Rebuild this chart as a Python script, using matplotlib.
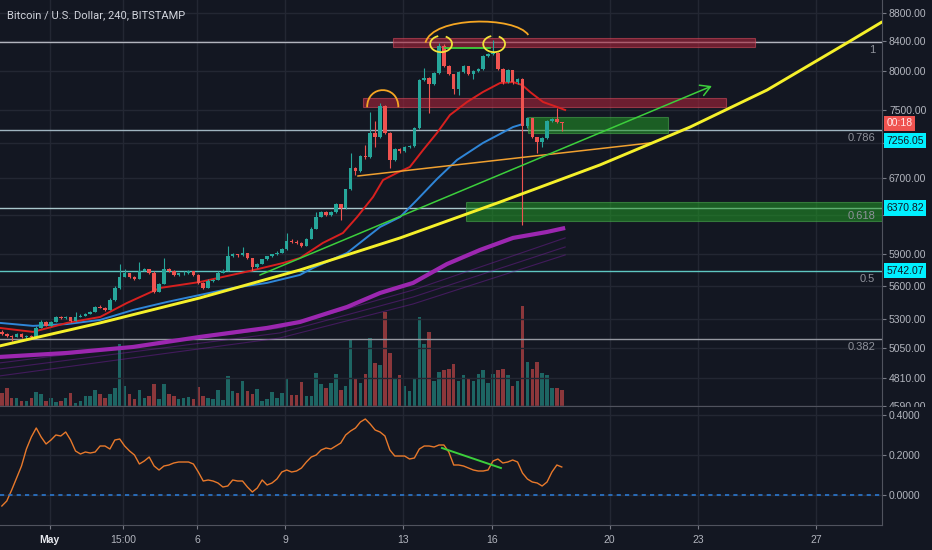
import numpy as np
import matplotlib
matplotlib.use("Agg")
import matplotlib.pyplot as plt
from matplotlib.path import Path
from matplotlib.patches import PathPatch, Rectangle
from matplotlib.transforms import blended_transform_factory
from matplotlib.ticker import FixedLocator, NullLocator

plt.rcParams['font.family'] = ['Liberation Sans', 'DejaVu Sans']

BG = '#131722'
GRID = '#232733'
TXT = '#b2b5be'
UP = '#26a69a'
DOWN = '#ef5350'

# x axis is "day of May 2019" (1.0 = May 1 00:00), one bar every 4 hours
first_bar = -0.625
first_open = 5185

closes = [5173, 5156, 5148, 5173, 5148, 5152, 5140, 5225, 5277, 5242,
          5277, 5321, 5312, 5316, 5286, 5321, 5330, 5348, 5366, 5411,
          5402, 5384, 5474, 5584, 5687, 5716, 5687, 5668, 5744, 5754,
          5725, 5547, 5621, 5754, 5744, 5706, 5716, 5725, 5735, 5706,
          5630, 5584, 5649, 5658, 5725, 5744, 5879, 5899, 5889, 5909,
          5860, 5773, 5811, 5850, 5879, 5899, 5918, 5948, 6037, 6027,
          6017, 5987, 6057, 6158, 6282, 6325, 6294, 6325, 6410, 6367,
          6571, 6803, 6770, 6941, 6930, 7212, 7163, 7541, 7212, 6895,
          7021, 6998, 7045, 7057, 7271, 7874, 7900, 7822, 7966, 8331,
          8059, 7953, 7757, 7980, 8059, 7953, 7993, 8019, 8195, 8222,
          8235, 8019, 7848, 8006, 7848, 7887, 7295, 7392, 7163, 7104,
          7151, 7355, 7380, 7343, 7331]
highs = [5200, 5180, 5165, 5182, 5178, 5162, 5158, 5235, 5290, 5282,
         5285, 5330, 5330, 5326, 5320, 5366, 5340, 5356, 5372, 5420,
         5425, 5410, 5484, 5595, 5802, 5760, 5725, 5695, 5830, 5765,
         5762, 5735, 5630, 5860, 5770, 5752, 5725, 5740, 5745, 5740,
         5712, 5640, 5660, 5668, 5735, 5755, 5987, 5910, 5905, 5968,
         5915, 5868, 5820, 5858, 5888, 5908, 5930, 5958, 6108, 6050,
         6040, 6025, 6065, 6170, 6325, 6340, 6335, 6340, 6420, 6418,
         6580, 6975, 6815, 6955, 7068, 7466, 7355, 7580, 7555, 7225,
         7035, 7040, 7060, 7070, 7285, 7890, 8032, 7915, 7980, 8372,
         8360, 8070, 7960, 7995, 8075, 8068, 8005, 8030, 8210, 8235,
         8414, 8250, 8030, 8020, 8015, 7900, 7900, 7410, 7400, 7170,
         7165, 7370, 7395, 7516, 7350]
lows = [5160, 5148, 5114, 5140, 5135, 5130, 5128, 5135, 5218, 5235,
        5238, 5270, 5300, 5302, 5278, 5280, 5315, 5325, 5340, 5360,
        5395, 5375, 5380, 5465, 5575, 5680, 5670, 5655, 5660, 5735,
        5715, 5535, 5540, 5615, 5730, 5695, 5690, 5705, 5715, 5695,
        5620, 5570, 5578, 5638, 5650, 5718, 5738, 5870, 5875, 5880,
        5850, 5744, 5765, 5805, 5843, 5872, 5892, 5910, 5940, 6015,
        6005, 5975, 5980, 6050, 6150, 6275, 6285, 6288, 6318, 6251,
        6360, 6565, 6725, 6760, 6915, 6925, 7050, 7155, 7200, 6803,
        6885, 6985, 6990, 7035, 7050, 7265, 7865, 7454, 7810, 7955,
        8045, 7940, 7700, 7680, 7970, 7940, 7890, 7985, 8010, 8185,
        8210, 8005, 7830, 7835, 7830, 7820, 6190, 7280, 7150, 6976,
        7050, 7140, 7345, 7330, 7235]
volumes = [13, 18, 8, 8, 5, 5, 8, 14, 12, 5,
           8, 4, 5, 8, 13, 3, 5, 10, 10, 16,
           12, 8, 12, 18, 62, 20, 12, 7, 16, 8,
           10, 22, 7, 22, 12, 10, 7, 8, 9, 7,
           19, 10, 8, 7, 16, 6, 30, 15, 13, 25,
           15, 12, 17, 5, 7, 14, 8, 13, 27, 11,
           11, 24, 10, 10, 33, 22, 18, 23, 32, 16,
           20, 67, 27, 23, 32, 68, 43, 41, 94, 53,
           27, 31, 20, 15, 28, 89, 62, 74, 25, 34,
           36, 37, 42, 25, 31, 27, 25, 32, 36, 23,
           32, 36, 37, 31, 20, 25, 100, 44, 37, 44,
           33, 31, 18, 18, 16]
osc = [-0.055, -0.03, 0.025, 0.085, 0.145, 0.23, 0.29, 0.335, 0.29, 0.255,
       0.275, 0.30, 0.295, 0.315, 0.275, 0.22, 0.205, 0.215, 0.21, 0.215,
       0.245, 0.245, 0.23, 0.275, 0.28, 0.245, 0.22, 0.20, 0.155, 0.17,
       0.19, 0.145, 0.125, 0.145, 0.15, 0.16, 0.165, 0.165, 0.165, 0.155,
       0.115, 0.07, 0.075, 0.07, 0.06, 0.04, 0.045, 0.075, 0.07, 0.07,
       0.04, 0.015, 0.035, 0.075, 0.05, 0.06, 0.08, 0.115, 0.125, 0.115,
       0.12, 0.135, 0.165, 0.19, 0.20, 0.225, 0.235, 0.23, 0.245, 0.26,
       0.30, 0.32, 0.335, 0.365, 0.38, 0.355, 0.325, 0.315, 0.295, 0.225,
       0.195, 0.195, 0.195, 0.18, 0.185, 0.23, 0.245, 0.245, 0.24, 0.25,
       0.25, 0.215, 0.15, 0.15, 0.145, 0.135, 0.125, 0.12, 0.12, 0.125,
       0.17, 0.18, 0.16, 0.165, 0.175, 0.165, 0.11, 0.08, 0.065, 0.06,
       0.045, 0.065, 0.115, 0.15, 0.14]

# moving averages
red_ma_day = [-0.69, 0.43, 1.59, 2.71, 3.62, 4.74, 6.10, 7.80, 8.92, 9.49,
              10.27, 10.95, 11.43, 11.97, 12.31, 12.78, 13.22, 13.67, 14.14,
              14.58, 15.16, 15.70, 16.28, 16.72, 17.03, 17.30, 17.74, 18.21, 18.49]
red_ma = [5222, 5188, 5266, 5318, 5443, 5580, 5636, 5740, 5816, 5864,
          6013, 6113, 6277, 6489, 6674, 6753, 6820, 7015, 7216,
          7434, 7596, 7723, 7839, 7852, 7813, 7723, 7596, 7534, 7496]
blue_ma_day = [-0.69, 0.43, 1.59, 2.71, 3.83, 4.98, 6.10, 7.22, 8.37, 9.49, 9.93,
               11.09, 12.21, 12.89, 13.46, 14.14, 14.82, 15.70, 16.28, 16.72, 17.06]
blue_ma = [5266, 5240, 5256, 5292, 5380, 5452, 5516, 5580, 5627, 5702, 5768,
           5914, 6174, 6277, 6457, 6685, 6900, 7097, 7204, 7287, 7324]
purple_ma_day = [-0.69, 1.59, 3.83, 6.10, 8.37, 9.49, 11.09, 12.21, 13.33,
                 14.48, 15.60, 16.72, 17.87, 18.49]
purple_ma = [4977, 5010, 5060, 5145, 5222, 5274, 5407, 5534, 5627,
             5806, 5943, 6063, 6123, 6164]
ribbon_day = [-0.69, 8.81, 13.33, 18.49]
ribbons = [[4928, 5222, 5561, 6063],
           [4879, 5179, 5497, 5973],
           [4823, 5136, 5434, 5894]]

# drawings (day, price)
curve_day = [-0.69, 2.71, 6.10, 9.49, 12.89, 16.28, 19.67, 22.73, 25.34, 28.05, 29.24]
curve_price = [5069, 5266, 5489, 5749, 6063, 6435, 6843, 7287, 7748, 8377, 8674]
green_trend = [(8.13, 5701), (23.47, 7800)]
orange_trend = [(11.46, 6719), (21.37, 7097)]
red_zones = [(12.65, 24.93, 8321, 8447), (11.63, 23.95, 7528, 7646)]
green_zones = [(17.23, 21.98, 7219, 7413), (15.11, 29.5, 6239, 6432)]
fib_ratio = ['1', '0.786', '0.618', '0.5', '0.382']
fib_price = [8391, 7256.05, 6370.82, 5742.07, 5130]
fib_color = ['#b2b5be', '#9fb4c0', '#a9c7cc', '#5fc7c2', '#9598a1']
small_arc = [(11.77, 7530), (11.77, 7821), (12.83, 7821), (12.83, 7530)]
big_arc = [(13.75, 8381), (13.99, 8761), (16.80, 8761), (17.24, 8489)]
top_loops = [(14.28, 8363), (16.08, 8363)]
tops_line = [(14.41, 8303), (15.94, 8303)]
osc_divergence = [(14.31, 0.235), (16.31, 0.135)]

price_ticks = [4590, 4810, 5050, 5300, 5600, 5900, 6300, 6700, 7100, 7500, 8000, 8400, 8800]
hidden_ticks = [6300, 7100]   # covered by the price labels on the chart
day_ticks = [1, 3.5, 6, 9, 13, 16, 20, 23, 27]
day_labels = ['May', '15:00', '6', '9', '13', '16', '20', '23', '27']

n = len(closes)
t = first_bar + np.arange(n) / 6.0
opens = [first_open] + closes[:-1]
up = [c >= o for o, c in zip(opens, closes)]
cols = [UP if u else DOWN for u in up]

W, H = 932, 550
fig = plt.figure(figsize=(W / 100, H / 100), dpi=100, facecolor=BG)
ax_vol = fig.add_axes([0, 144 / H, 882 / W, 406 / H], facecolor=BG, zorder=1)
ax = fig.add_axes([0, 144 / H, 882 / W, 406 / H], sharex=ax_vol, zorder=2)
ax.patch.set_visible(False)
ax_osc = fig.add_axes([0, 25 / H, 882 / W, 119 / H], facecolor=BG, zorder=4)

xlim = (-0.688, 29.242)

# volume
ax_vol.bar(t, volumes, width=0.12, color=cols, alpha=0.55, linewidth=0)
ax_vol.set_ylim(0, 406)
ax_vol.set_yticks([])
for s in ax_vol.spines.values():
    s.set_visible(False)
ax_vol.tick_params(axis='x', length=0, labelbottom=False)

# price axis
ax.set_yscale('log')
ax.set_xlim(*xlim)
ax.set_ylim(4588, 8996)
ax.yaxis.set_major_locator(FixedLocator(price_ticks))
ax.yaxis.set_minor_locator(NullLocator())
ax.set_yticklabels(['' if p in hidden_ticks else f'{p:.2f}' for p in price_ticks])
ax.yaxis.tick_right()
ax.tick_params(axis='y', colors='#787b86', labelcolor=TXT, labelsize=7.5, length=3, pad=2)
ax.tick_params(axis='x', length=0, labelbottom=False)
ax.set_xticks(day_ticks)
ax.grid(True, color=GRID, linewidth=1, zorder=0)
for name, s in ax.spines.items():
    s.set_visible(name in ('right', 'bottom'))
    s.set_color('#50535e')

# zones
for d0, d1, p0, p1 in red_zones:
    ax.add_patch(Rectangle((d0, p0), d1 - d0, p1 - p0, facecolor='#a8233a', alpha=0.6,
                           edgecolor='#d04a5a', linewidth=0.8, zorder=3))
for d0, d1, p0, p1 in green_zones:
    ax.add_patch(Rectangle((d0, p0), d1 - d0, p1 - p0, facecolor='#229a26', alpha=0.55,
                           edgecolor='#4caf50', linewidth=0.8, zorder=3))

# fib levels
lab_tr = blended_transform_factory(ax.transAxes, ax.transData)
for r, p, c in zip(fib_ratio, fib_price, fib_color):
    ax.axhline(p, color=c, linewidth=1, zorder=2.5)
    ax.annotate(r, xy=(875 / 882, p), xycoords=lab_tr, xytext=(0, -6), textcoords='offset points',
                ha='right', va='center', fontsize=8, color='#8f929b', zorder=6)

# moving averages
for vals in ribbons:
    ax.plot(ribbon_day, vals, color='#7b1fa2', alpha=0.45, linewidth=0.8, zorder=4)
ax.plot(purple_ma_day, purple_ma, color='#9c27b0', linewidth=3, solid_capstyle='butt', zorder=4)
ax.plot(blue_ma_day, blue_ma, color='#2f86d8', linewidth=1.4, zorder=4)
ax.plot(red_ma_day, red_ma, color='#d8201f', linewidth=1.4, zorder=4)

# candles
ax.vlines(t, lows, highs, colors=cols, linewidth=0.8, zorder=5)
ax.bar(t, [abs(c - o) for o, c in zip(opens, closes)], bottom=[min(o, c) for o, c in zip(opens, closes)],
       width=0.12, color=cols, linewidth=0, zorder=5)

# trend drawings
ax.plot([p[0] for p in orange_trend], [p[1] for p in orange_trend], color='#f0a030', linewidth=1.1, zorder=6)
ax.annotate('', xy=green_trend[1], xytext=green_trend[0],
            arrowprops=dict(arrowstyle='->,head_length=0.7,head_width=0.4', color='#3ccf3c',
                            linewidth=1.1, shrinkA=0, shrinkB=0), zorder=6)
ax.plot(curve_day, curve_price, color='#f5f02a', linewidth=2.1, zorder=7, solid_capstyle='round')
ax.plot([p[0] for p in tops_line], [p[1] for p in tops_line], color='#3ccf3c', linewidth=1.3, zorder=7)

for pts in (small_arc, big_arc):
    path = Path(pts, [Path.MOVETO, Path.CURVE4, Path.CURVE4, Path.CURVE4])
    ax.add_patch(PathPatch(path, fill=False, edgecolor='#f5a623', linewidth=1.3, zorder=7))

ang = np.radians(np.linspace(110, 420, 80))
for cd, cp in top_loops:
    ax.plot(cd + 0.37 * np.cos(ang), cp * np.exp(0.0135 * np.sin(ang)),
            color='#f2e33a', linewidth=1.3, zorder=7)

# price labels on the axis
box_kw = dict(ha='left', va='center', fontsize=7.5, zorder=10, annotation_clip=False)
ax.annotate('00:18', xy=(1, closes[-1]), xycoords=lab_tr, xytext=(3, 0), textcoords='offset points',
            color='#ffe8e8', bbox=dict(boxstyle='square,pad=0.25', fc='#ef5350', ec='none'), **box_kw)
for txt, p, dy in [('7256.05', 7256.05, -8), ('6370.82', 6370.82, 0), ('5742.07', 5742.07, 0)]:
    ax.annotate(txt, xy=(1, p), xycoords=lab_tr, xytext=(3, dy), textcoords='offset points',
                color='#131722', bbox=dict(boxstyle='square,pad=0.25', fc='#00f0ff', ec='none'), **box_kw)

# cover the clipped bottom price label
fig.patches.append(Rectangle((882 / W, 0), 50 / W, 144 / H - 0.002, transform=fig.transFigure,
                             facecolor=BG, edgecolor='none', zorder=3))

# oscillator panel
ax_osc.set_xlim(*xlim)
ax_osc.set_ylim(-0.15, 0.445)
ax_osc.plot(t, osc, color='#e8792b', linewidth=1)
ax_osc.axhline(0, color='#2b78d0', linewidth=1.2, linestyle=(0, (2.5, 2.5)))
ax_osc.plot([p[0] for p in osc_divergence], [p[1] for p in osc_divergence], color='#3ccf3c', linewidth=1.4)
ax_osc.yaxis.tick_right()
ax_osc.set_yticks([0.4, 0.2, 0.0])
ax_osc.set_yticklabels(['0.4000', '0.2000', '0.0000'])
ax_osc.set_xticks(day_ticks)
ax_osc.set_xticklabels(day_labels)
ax_osc.tick_params(axis='y', colors='#787b86', labelcolor=TXT, labelsize=7.5, length=3, pad=2)
ax_osc.tick_params(axis='x', colors='#787b86', labelcolor=TXT, labelsize=7.5, length=3, pad=4)
ax_osc.get_xticklabels()[0].set_color('#e6e8ee')
ax_osc.get_xticklabels()[0].set_fontweight('bold')
ax_osc.grid(True, color=GRID, linewidth=1)
for name, s in ax_osc.spines.items():
    s.set_visible(name in ('right', 'bottom', 'top'))
    s.set_color('#50535e')

fig.text(7 / W, 1 - 15 / H, 'Bitcoin / U.S. Dollar, 240, BITSTAMP', color='#d1d4dc',
         fontsize=8, ha='left', va='center', family=['Roboto', 'Liberation Sans'])

fig.savefig('out.png', dpi=100, facecolor=BG)
